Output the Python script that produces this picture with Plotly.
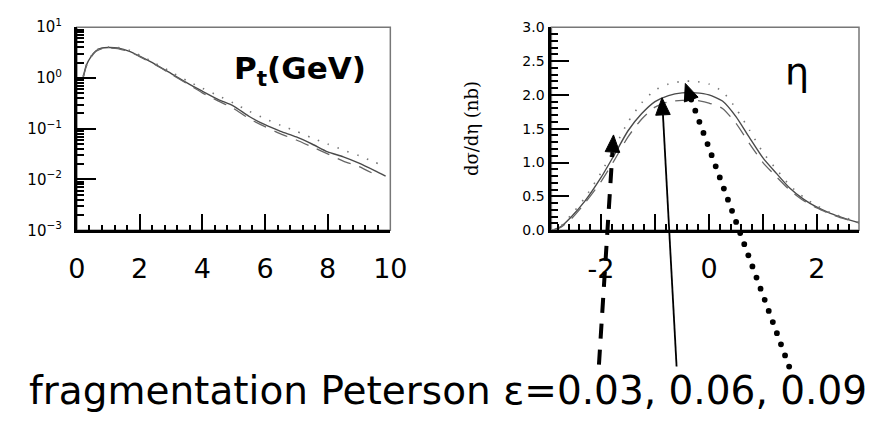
import math
import plotly.graph_objects as go

W, H = 876, 428

# ---------------- data: transverse momentum panel ----------------
pt_x = [0.2, 0.3, 0.45, 0.6, 0.8, 1.0, 1.3, 1.7, 2.0, 2.5, 3.0, 3.5, 4.0, 4.5,
        5.0, 5.5, 6.0, 6.5, 7.0, 7.5, 8.0, 8.5, 9.0, 9.5, 9.85]
pt_eps006 = [1.05, 1.78, 2.63, 3.39, 3.89, 3.98, 3.89, 3.31, 2.69, 1.86, 1.23,
             0.81, 0.55, 0.38, 0.28, 0.174, 0.12, 0.089, 0.069, 0.050, 0.035,
             0.028, 0.021, 0.015, 0.0117]
pt_eps003 = [1.0, 1.70, 2.57, 3.31, 3.80, 3.89, 3.80, 3.24, 2.63, 1.82, 1.20,
             0.78, 0.51, 0.355, 0.25, 0.158, 0.11, 0.079, 0.060, 0.044, 0.032,
             0.023, 0.018, 0.0126]
pt_eps009 = [1.07, 1.82, 2.69, 3.47, 3.98, 4.07, 3.98, 3.47, 2.82, 1.95, 1.32,
             0.89, 0.63, 0.45, 0.32, 0.22, 0.158, 0.117, 0.089, 0.066, 0.050,
             0.038, 0.0295, 0.0219, 0.0182]
pt_tickvals = [0, 2, 4, 6, 8, 10]
pt_ticktext = ["0", "2", "4", "6", "8", "10"]
log_tickvals = [10, 1, 0.1, 0.01, 0.001]
log_ticktext = ["10<sup>1</sup>", "10<sup>0</sup>", "10<sup>\u22121</sup>",
                "10<sup>\u22122</sup>", "10<sup>\u22123</sup>"]

# ---------------- data: pseudorapidity panel ----------------
eta_x = [-2.9, -2.75, -2.55, -2.3, -2.0, -1.75, -1.5, -1.25, -1.0, -0.75, -0.5,
         -0.25, 0.0, 0.25, 0.5, 0.75, 1.0, 1.25, 1.5, 1.75, 2.0, 2.25, 2.5, 2.78]
eta_eps006 = [0.0, 0.05, 0.2, 0.43, 0.78, 1.12, 1.47, 1.72, 1.9, 1.99, 2.03,
              2.03, 2.0, 1.91, 1.68, 1.37, 1.07, 0.84, 0.62, 0.46, 0.34, 0.25,
              0.18, 0.11]
eta_eps003 = [0.0, 0.04, 0.17, 0.4, 0.72, 1.04, 1.38, 1.64, 1.82, 1.9, 1.92,
              1.92, 1.88, 1.8, 1.58, 1.28, 1.0, 0.79, 0.59, 0.44, 0.33, 0.24,
              0.17, 0.11]
eta_eps009 = [0.0, 0.06, 0.23, 0.48, 0.85, 1.22, 1.6, 1.88, 2.07, 2.16, 2.2,
              2.2, 2.16, 2.05, 1.8, 1.48, 1.15, 0.9, 0.66, 0.49, 0.36, 0.26,
              0.19, 0.12]
eta_tickvals = [-2, -1, 0, 1, 2]
eta_ticktext = ["-2", "", "0", "", "2"]
sig_tickvals = [0.0, 0.5, 1.0, 1.5, 2.0, 2.5, 3.0]
sig_ticktext = ["0.0", "0.5", "1.0", "1.5", "2.0", "2.5", "3.0"]

CURVE = "#4a4a4a"
FONT_HAND = "DejaVu Sans"

fig = go.Figure()

def add_curves(x, ys, xa, ya):
    styles = [("solid", 1.4, CURVE), ("14px,9px", 1.3, "#666666"), ("1.5px,9px", 1.6, "#777777")]
    for y, (dash, w, c) in zip(ys, styles):
        fig.add_trace(go.Scatter(x=x[:len(y)], y=y, mode="lines", xaxis=xa, yaxis=ya,
                                 line=dict(color=c, width=w, dash=dash, shape="spline",
                                           smoothing=0.6),
                                 showlegend=False, hoverinfo="skip"))

add_curves(pt_x, [pt_eps006, pt_eps003, pt_eps009], "x", "y")
add_curves(eta_x, [eta_eps006, eta_eps003, eta_eps009], "x2", "y2")

y_dom = [1 - 230 / H, 1 - 17 / H]

axis_common = dict(showline=True, linecolor="black", linewidth=3, showgrid=False,
                   zeroline=False, ticks="inside", tickcolor="black", tickwidth=2)

fig.update_layout(
    width=W, height=H, margin=dict(l=0, r=0, t=0, b=0),
    paper_bgcolor="white", plot_bgcolor="white", showlegend=False,
    xaxis=dict(domain=[70 / W, 393 / W], range=[0, 10], anchor="y",
               tickvals=pt_tickvals, ticktext=pt_ticktext, ticklen=16,
               minor=dict(ticks="inside", dtick=0.4, ticklen=5, tickwidth=2, tickcolor="black"),
               tickfont=dict(family=FONT_HAND, size=27, color="black"),
               ticklabelstandoff=12, **axis_common),
    yaxis=dict(domain=y_dom, type="log", range=[-3, 1], anchor="x",
               tickvals=log_tickvals, ticktext=log_ticktext, ticklen=19,
               minor=dict(ticks="inside", ticklen=7, tickwidth=2, tickcolor="black", dtick="D1"),
               tickfont=dict(family="DejaVu Sans", size=15, color="black"),
               ticklabelstandoff=9, **axis_common),
    xaxis2=dict(domain=[559 / W, 1.0], range=[-2.92, 2.78], anchor="y2",
                tickvals=eta_tickvals, ticktext=eta_ticktext, ticklen=16,
                minor=dict(ticks="inside", dtick=0.2, tick0=0, ticklen=6, tickwidth=2, tickcolor="black"),
                tickfont=dict(family=FONT_HAND, size=27, color="black"),
                ticklabelstandoff=12, **axis_common),
    yaxis2=dict(domain=y_dom, range=[0, 3.0], anchor="x2",
                tickvals=sig_tickvals, ticktext=sig_ticktext, ticklen=18,
                minor=dict(ticks="inside", dtick=0.1, ticklen=7, tickwidth=2, tickcolor="black"),
                tickfont=dict(family="DejaVu Sans", size=14, color="black"),
                ticklabelstandoff=1, **axis_common),
)

shapes = []
# thin grey frame (top / right)
for xr, yr in (("x domain", "y domain"), ("x2 domain", "y2 domain")):
    shapes.append(dict(type="rect", xref=xr, yref=yr, x0=0, x1=1, y0=0, y1=1,
                       line=dict(color="#777777", width=1.5), layer="below"))

def P(px, py):
    return px / W, 1 - py / H

def head(tip, tail, length=18, half=7.5):
    dx, dy = tip[0] - tail[0], tip[1] - tail[1]
    n = math.hypot(dx, dy)
    ux, uy = dx / n, dy / n
    bx, by = tip[0] - length * ux, tip[1] - length * uy
    px_, py_ = -uy, ux
    pts = [tip, (bx + half * px_, by + half * py_), (bx - half * px_, by - half * py_)]
    pp = [P(*p) for p in pts]
    path = "M {} {} L {} {} L {} {} Z".format(pp[0][0], pp[0][1], pp[1][0], pp[1][1], pp[2][0], pp[2][1])
    shapes.append(dict(type="path", xref="paper", yref="paper", path=path,
                       fillcolor="black", line=dict(color="black", width=1)))
    return (bx, by)

# dashed arrow (eps = 0.03)
tail, tip = (608, 371), (623, 130)
b = head(tip, tail)
x0, y0 = P(*tail); x1, y1 = P(*b)
shapes.append(dict(type="line", xref="paper", yref="paper", x0=x0, y0=y0, x1=x1, y1=y1,
                   line=dict(color="black", width=4, dash="15px,11px")))
# solid arrow (eps = 0.06)
tail, tip = (688, 373), (673, 91)
b = head(tip, tail)
x0, y0 = P(*tail); x1, y1 = P(*b)
shapes.append(dict(type="line", xref="paper", yref="paper", x0=x0, y0=y0, x1=x1, y1=y1,
                   line=dict(color="black", width=1.8)))
# dotted arrow (eps = 0.09)
tail, tip = (804, 373), (697, 76)
b = head(tip, tail)
n_dots = int(math.hypot(b[0] - tail[0], b[1] - tail[1]) // 12)
for i in range(n_dots + 1):
    t = i / n_dots
    cx = tail[0] + (b[0] - tail[0]) * t
    cy = tail[1] + (b[1] - tail[1]) * t
    xa, ya = P(cx - 3, cy - 3); xb, yb = P(cx + 3, cy + 3)
    shapes.append(dict(type="circle", xref="paper", yref="paper", x0=xa, y0=yb, x1=xb, y1=ya,
                       fillcolor="black", line=dict(color="black", width=0)))

fig.update_layout(shapes=shapes)

ann = []
ann.append(dict(text="<b>P<sub>t</sub>(GeV)</b>", x=300 / W, y=1 - 62 / H, xref="paper", yref="paper",
                showarrow=False, font=dict(family=FONT_HAND, size=31, color="black"),
                xanchor="center", yanchor="middle"))
ann.append(dict(text="\u03b7", x=812 / W, y=1 - 64 / H, xref="paper", yref="paper",
                showarrow=False, font=dict(family=FONT_HAND, size=38, color="black"),
                xanchor="center", yanchor="middle"))
ann.append(dict(text="d\u03c3/d\u03b7 (nb)", x=476 / W, y=1 - 123 / H, xref="paper", yref="paper",
                showarrow=False, textangle=-90,
                font=dict(family="DejaVu Serif", size=18, color="black"),
                xanchor="center", yanchor="middle"))
ann.append(dict(text="fragmentation Peterson \u03b5=0.03, 0.06, 0.09", x=452 / W, y=1 - 398 / H,
                xref="paper", yref="paper", showarrow=False,
                font=dict(family=FONT_HAND, size=39, color="black"),
                xanchor="center", yanchor="middle"))
fig.update_layout(annotations=ann)

fig.write_html("out.html")
